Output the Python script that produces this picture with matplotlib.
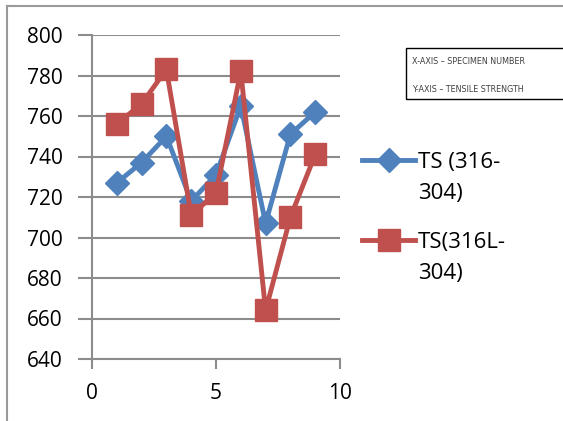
import matplotlib.pyplot as plt
from matplotlib.lines import Line2D
from matplotlib.patches import Rectangle

# specimen number
specimen = [1, 2, 3, 4, 5, 6, 7, 8, 9]
# tensile strength
ts_316_304 = [727, 737, 750, 718, 731, 765, 707, 751, 762]
ts_316l_304 = [756, 766, 783, 711, 722, 782, 664, 710, 741]

blue = '#4F81BD'
red = '#C0504D'
grid_col = '#8C8C8C'

plt.rcParams['font.family'] = ['Open Sans', 'DejaVu Sans']

fig = plt.figure(figsize=(5.63, 4.21), dpi=100)
ax = fig.add_axes([92/563, 1-359/421, 248/563, 324/421])

ax.plot(specimen, ts_316_304, color=blue, lw=3.5, marker='D', ms=12,
        label='TS (316-', zorder=3)
ax.plot(specimen, ts_316l_304, color=red, lw=3.5, marker='s', ms=16,
        label='TS(316L-', zorder=4)

ax.set_xlim(0, 10)
ax.set_ylim(640, 800)
ax.set_xticks([0, 5, 10])
ax.set_yticks(range(640, 801, 20))
ax.yaxis.grid(True, color=grid_col, lw=1.5)
ax.set_axisbelow(True)
ax.tick_params(axis='y', length=10, width=1.5, color=grid_col, labelsize=15, pad=11)
ax.tick_params(axis='x', length=7, width=1.5, color=grid_col, labelsize=15, pad=10)
for s in ['top', 'right']:
    ax.spines[s].set_visible(False)
for s in ['left', 'bottom']:
    ax.spines[s].set_color(grid_col)
    ax.spines[s].set_linewidth(1.5)

# legend: handles line up with the first line of each label
leg = fig.legend(loc='upper left', bbox_to_anchor=(362/563, 1-152/421),
                 frameon=False, fontsize=16, handlelength=2.4,
                 labelspacing=2.65, handletextpad=0.1, borderpad=0,
                 borderaxespad=0)
fig.text(418/563, 1-193/421, '304)', fontsize=16, va='center')
fig.text(418/563, 1-273/421, '304)', fontsize=16, va='center')

# note box
fig.patches.append(Rectangle((406/563, 1-99/421), 160/563, 51/421,
                             transform=fig.transFigure, fill=False,
                             ec='black', lw=1))
fig.text(412/563, 1-62/421, 'X-AXIS – SPECIMEN NUMBER', fontsize=5.8,
         va='center', family='Liberation Sans Narrow', color='#404040')
fig.text(412/563, 1-90/421, 'Y-AXIS – TENSILE STRENGTH', fontsize=5.8,
         va='center', family='Liberation Sans Narrow', color='#404040')

# outer frame
fig.lines.append(Line2D([7/563, 1], [1-6/421, 1-6/421], transform=fig.transFigure,
                        color='#9A9A9A', lw=1.5))
fig.lines.append(Line2D([7/563, 7/563], [0, 1-6/421], transform=fig.transFigure,
                        color='#9A9A9A', lw=1.5))

fig.savefig('out.png', dpi=100)
